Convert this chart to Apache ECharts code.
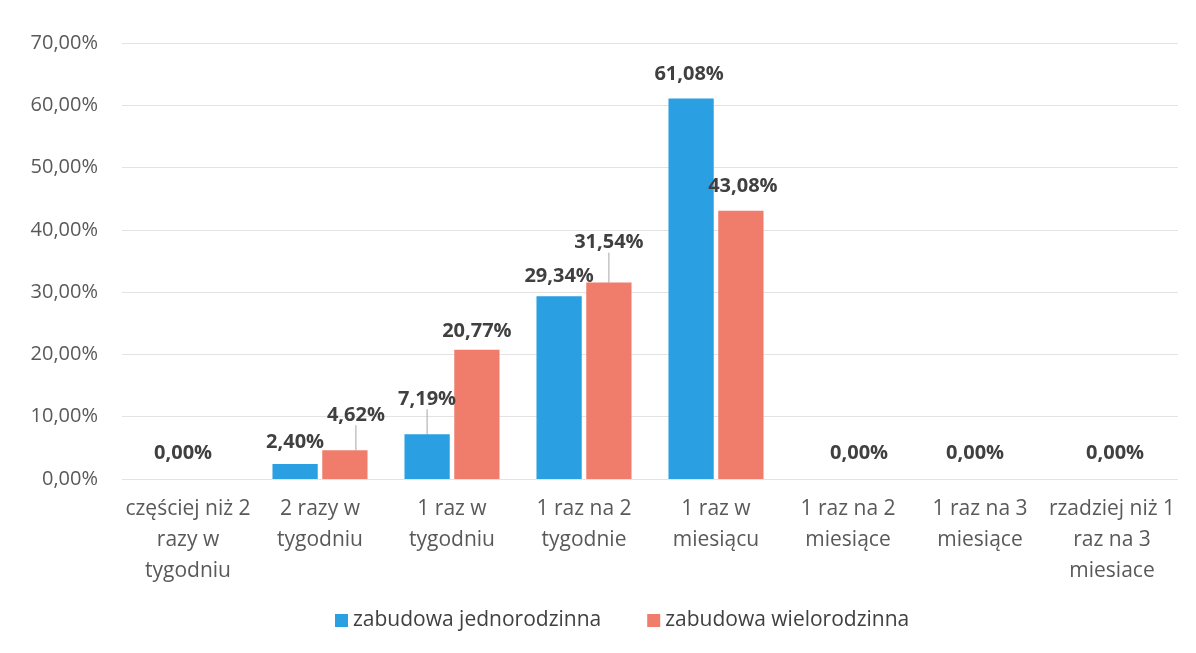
<!DOCTYPE html>
<html><head><meta charset="utf-8">
<script src="https://cdn.jsdelivr.net/npm/echarts@6/dist/echarts.min.js"></script>
<style>html,body{margin:0;padding:0;background:#fff}#c{width:1196px;height:653px}</style>
</head><body><div id="c"></div>
<script>
const categories = ['częściej niż 2\nrazy w\ntygodniu','2 razy w\ntygodniu','1 raz w\ntygodniu','1 raz na 2\ntygodnie','1 raz w\nmiesiącu','1 raz na 2\nmiesiące','1 raz na 3\nmiesiące','rzadziej niż 1\nraz na 3\nmiesiace'];
const seriesNames = ['zabudowa jednorodzinna','zabudowa wielorodzinna'];
const jednorodzinna = [0, 2.40, 7.19, 29.34, 61.08, 0, 0, 0];
const wielorodzinna = [0, 4.62, 20.77, 31.54, 43.08, 0, 0, 0];
const yTicks = [0,10,20,30,40,50,60,70];

// label placement tweaks (pixels), style only
const dxA = [20, 0, 0, 0, -2, 36, 20, 28];
const dyA = [-3, 1, -12, 3, -1, -3, -3, -3];
const lineA = [false, false, true, false, false, false, false, false];
const dxB = [0, 11, 0, 0, 2, 0, 0, 0];
const dyB = [0, -12, 5, -17, -1, 0, 0, 0];
const lineB = [false, true, false, true, false, false, false, false];
const showB = wielorodzinna.map(v => v !== 0);

const fmt = v => v.toFixed(2).replace('.', ',') + '%';
const font = '"Open Sans", "Noto Sans", sans-serif';

function items(vals, lines, shows) {
  return vals.map((v, i) => ({
    value: v,
    label: { show: shows ? shows[i] : true },
    labelLine: { show: lines[i], lineStyle: { color: '#a6a6a6', width: 1 }, length2: 0 }
  }));
}

const chart = echarts.init(document.getElementById('c'));
const labelCfg = {
  show: true, position: 'top', distance: 13,
  formatter: p => fmt(p.value),
  color: '#404040', fontWeight: 'bold', fontSize: 20, fontFamily: font
};
chart.setOption({
  animation: false,
  textStyle: { fontFamily: font },
  grid: { left: 122, right: 18, top: 43, bottom: 174 },
  legend: {
    bottom: 17, left: 330, itemWidth: 13, itemHeight: 13, itemGap: 46,
    icon: 'rect',
    textStyle: { color: '#404040', fontSize: 21, fontFamily: font },
    data: seriesNames
  },
  xAxis: {
    type: 'category', data: categories,
    axisLine: { show: false }, axisTick: { show: false },
    axisLabel: { interval: 0, color: '#595959', fontSize: 21, lineHeight: 31, margin: 15, fontFamily: font }
  },
  yAxis: {
    type: 'value', min: 0, max: 70, interval: 10,
    axisLine: { show: false }, axisTick: { show: false },
    splitLine: { lineStyle: { color: '#e3e3e3', width: 1 } },
    axisLabel: { color: '#595959', fontSize: 20, margin: 24, fontFamily: font,
      formatter: v => fmt(v) }
  },
  series: [
    { name: seriesNames[0], type: 'bar', data: items(jednorodzinna, lineA),
      itemStyle: { color: '#2a9fe2' }, barGap: '10%', barCategoryGap: '28%',
      label: labelCfg,
      labelLayout: p => ({ dx: dxA[p.dataIndex], dy: dyA[p.dataIndex] }) },
    { name: seriesNames[1], type: 'bar', data: items(wielorodzinna, lineB, showB),
      itemStyle: { color: '#f07c6c' },
      label: labelCfg,
      labelLayout: p => ({ dx: dxB[p.dataIndex], dy: dyB[p.dataIndex] }) }
  ]
});
</script></body></html>
